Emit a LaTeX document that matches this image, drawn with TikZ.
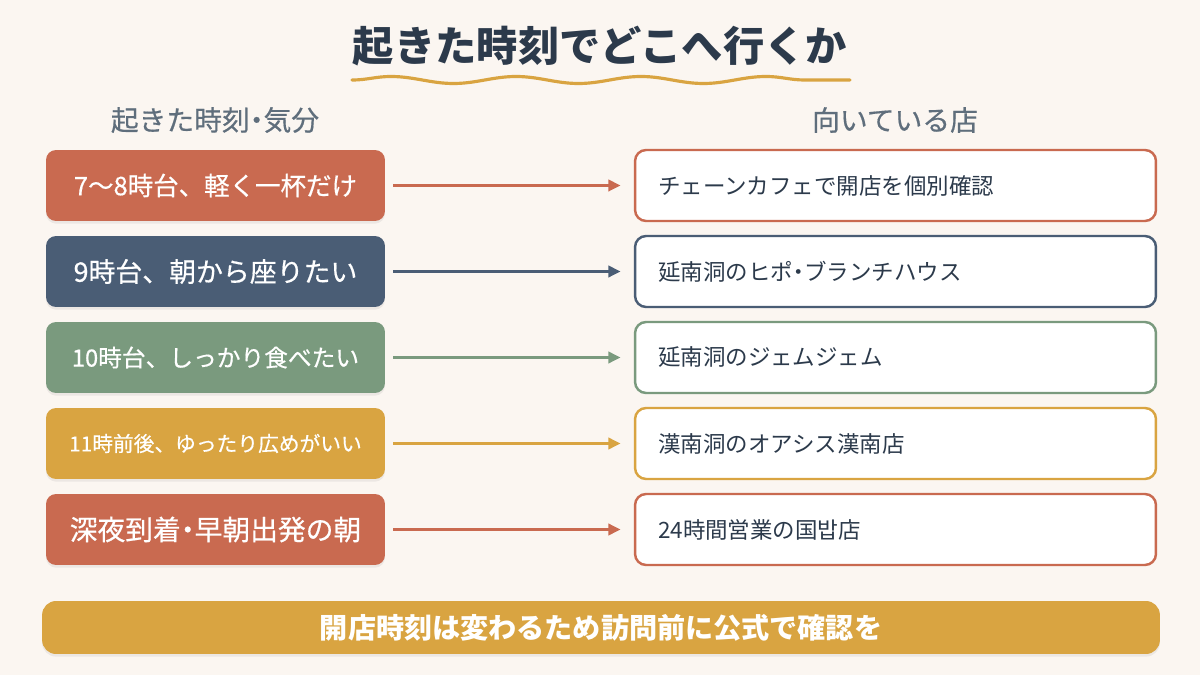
\documentclass[tikz,border=0pt]{standalone}
\usepackage{fontspec}
\setmainfont{Noto Sans CJK JP}
\newfontfamily\jpmed[FakeBold=0.5]{Noto Sans CJK JP}
\newcommand\nk{{\addfontfeature{RawFeature=+palt}・}}
\usetikzlibrary{arrows.meta,decorations.pathmorphing,shadows}
\definecolor{bgcream}{HTML}{FBF6F1}
\definecolor{inkdark}{HTML}{2C3A4B}
\definecolor{inkgray}{HTML}{5F6E7C}
\definecolor{terra}{HTML}{C96A50}
\definecolor{slate}{HTML}{4A5D75}
\definecolor{sage}{HTML}{7A9A7E}
\definecolor{gold}{HTML}{D9A441}
\begin{document}
\begin{tikzpicture}[x=0.02cm,y=-0.02cm,
  mood/.style={fill=#1,rounded corners=0.2cm,minimum width=6.78cm,minimum height=1.42cm,
    text=white,inner sep=0pt,drop shadow={shadow xshift=0pt,shadow yshift=-1.5pt,opacity=0.12}},
  shop/.style={draw=#1,line width=1.4pt,fill=white,rounded corners=0.22cm,minimum width=10.42cm,
    minimum height=1.42cm,text width=9.5cm,align=left,inner xsep=0.46cm,inner ysep=0pt,
    text=inkdark,font=\fontsize{12.8}{14}\selectfont},
  link/.style={-{Triangle[length=7pt,width=6.5pt]},draw=#1,line width=1.4pt,shorten <=4.5pt,shorten >=7.5pt},
  head/.style={text=inkgray,font=\jpmed\fontsize{15.8}{17}\selectfont}]
\useasboundingbox (0,0) rectangle (1200,675);
\fill[bgcream] (0,0) rectangle (1200,675);
% title
\node[text=inkdark,font=\fontsize{23.5}{26}\bfseries] (title) at (600,46) {起きた時刻でどこへ行くか};
\coordinate (w1) at (352,80);
\coordinate (w2) at (850,80);
\draw[gold,line width=1.8pt,line cap=round,decorate,decoration={snake,segment length=2.5cm,amplitude=0.07cm}] (w1) -- (w2);
% column heads
\node[head] (hl) at (215,120) {起きた時刻\nk 気分};
\node[head] (hr) at (895,120) {向いている店};
% left column
\node[mood=terra,font=\jpmed\fontsize{14.5}{16}\selectfont] (L1) at (215.5,185.5) {7〜8時台、軽く一杯だけ};
\node[mood=slate,font=\jpmed\fontsize{15.3}{17}\selectfont] (L2) at (215.5,271.5) {9時台、朝から座りたい};
\node[mood=sage,font=\jpmed\fontsize{13.5}{15}\selectfont] (L3) at (215.5,357.5) {10時台、しっかり食べたい};
\node[mood=gold,font=\jpmed\fontsize{11.8}{13}\selectfont] (L4) at (215.5,443.5) {11時前後、ゆったり広めがいい};
\node[mood=terra,font=\jpmed\fontsize{15.8}{17}\selectfont] (L5) at (215.5,529.5) {深夜到着\nk 早朝出発の朝};
% right column
\node[shop=terra] (R1) at (895.5,185.5) {チェーンカフェで開店を個別確認};
\node[shop=slate] (R2) at (895.5,271.5) {延南洞のヒポ\nk ブランチハウス};
\node[shop=sage] (R3) at (895.5,357.5) {延南洞のジェムジェム};
\node[shop=gold] (R4) at (895.5,443.5) {漢南洞のオアシス漢南店};
\node[shop=terra] (R5) at (895.5,529.5) {24時間営業の国밥店};
% arrows
\draw[link=terra] (L1) -- (R1);
\draw[link=slate] (L2) -- (R2);
\draw[link=sage] (L3) -- (R3);
\draw[link=gold] (L4) -- (R4);
\draw[link=terra] (L5) -- (R5);
% note
\node[fill=gold,rounded corners=0.28cm,minimum width=22.36cm,minimum height=1.06cm,text=white,
  font=\fontsize{16}{18}\bfseries,drop shadow={shadow xshift=0pt,shadow yshift=-1.5pt,opacity=0.12}] (note) at (601,627.5) {開店時刻は変わるため訪問前に公式で確認を};
\end{tikzpicture}
\end{document}
